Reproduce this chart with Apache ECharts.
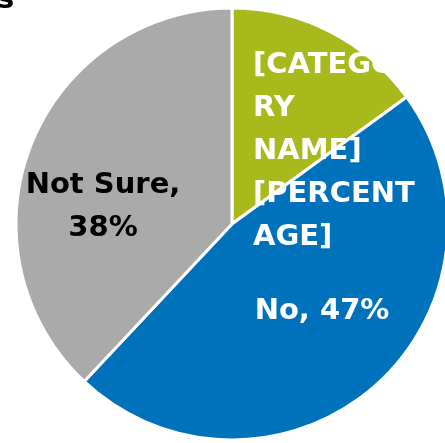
<!DOCTYPE html>
<html>
<head>
<meta charset="utf-8">
<script src="https://cdn.jsdelivr.net/npm/echarts@6/dist/echarts.min.js"></script>
<style>
  html, body { margin: 0; padding: 0; background: #fff; }
  #chart { width: 445px; height: 443px; }
</style>
</head>
<body>
<div id="chart"></div>
<script>
// 数据
const categories = ['Yes', 'No', 'Not Sure'];
const values = [15, 47, 38];
const labelTexts = ['[CATEGO\nRY\nNAME]\n[PERCENT\nAGE]', 'No, 47%', 'Not Sure,\n38%'];
const colors = ['#a8b91c', '#0072bb', '#aaaaaa'];
const labelColors = ['#fff', '#fff', '#000'];

// 标签位置 [x, y, align]
const labelPos = [
  [253, 151, 'left'],
  [322, 311, 'center'],
  [103, 207, 'center'],
];

const myChart = echarts.init(document.getElementById('chart'));
myChart.setOption({
  animation: false,
  graphic: [{
    type: 'text',
    left: -3,
    top: -14,
    style: { text: 's', font: 'bold 29px "DejaVu Sans"', fill: '#000' },
  }],
  series: [{
    type: 'pie',
    center: [232, 224],
    radius: 216,
    startAngle: 90,
    clockwise: true,
    itemStyle: { borderColor: '#fff', borderWidth: 3 },
    label: {
      show: true,
      position: 'inside',
      fontFamily: 'DejaVu Sans',
      fontWeight: 'bold',
      fontSize: 29,
      lineHeight: 43,
    },
    labelLine: { show: false },
    emphasis: { disabled: true },
    labelLayout: params => {
      const p = labelPos[params.dataIndex];
      return { x: p[0], y: p[1], align: p[2], verticalAlign: 'middle' };
    },
    data: categories.map((name, i) => ({
      name,
      value: values[i],
      itemStyle: { color: colors[i] },
      label: { formatter: labelTexts[i], color: labelColors[i], align: labelPos[i][2] },
    })),
  }],
});
</script>
</body>
</html>
